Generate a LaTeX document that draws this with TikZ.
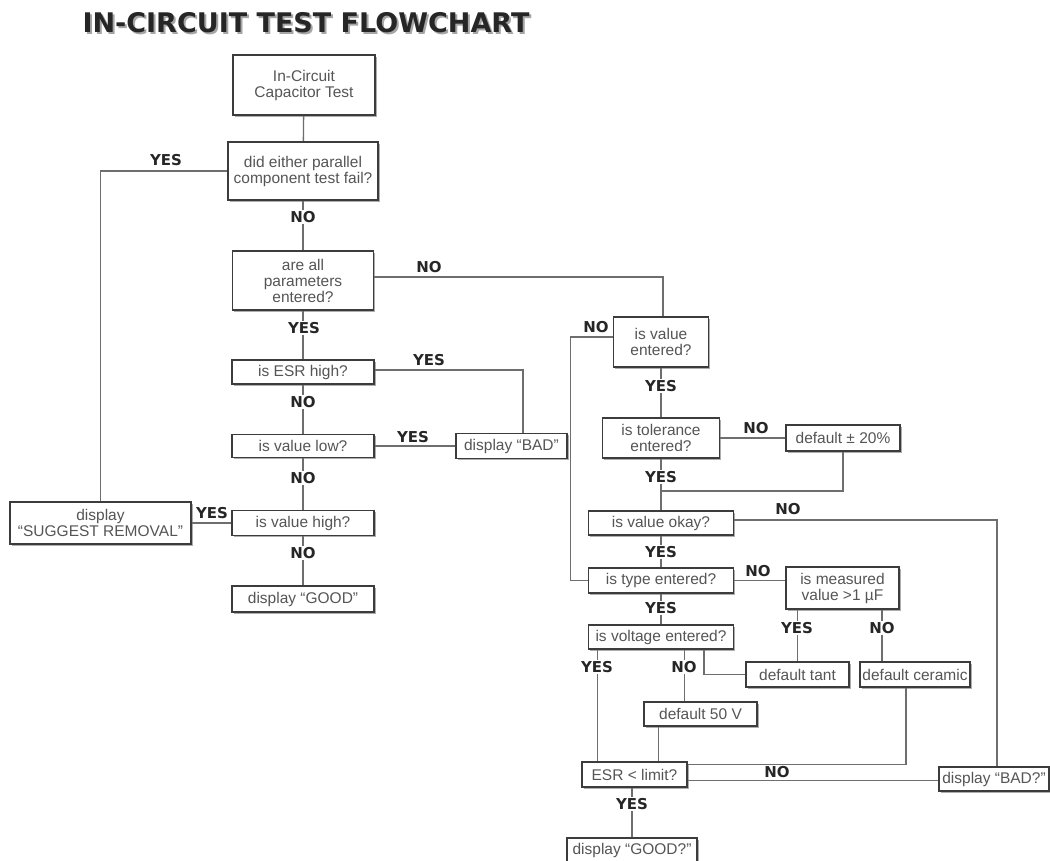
\documentclass[tikz,border=0pt]{standalone}
\usepackage{fontspec}
\newfontfamily\boxfont{Liberation Sans}
\newfontfamily\answerfont{DejaVu Sans}
\usetikzlibrary{calc, shadows}
\definecolor{boxline}{HTML}{3C3C3C}
\definecolor{boxtext}{HTML}{555555}
\definecolor{wirecol}{HTML}{6E6E6E}

\tikzset{
  box/.style 2 args={draw=boxline, line width=1.6pt, fill=white, inner sep=0pt,
    minimum width=#1pt, minimum height=#2pt, align=center, text=boxtext,
    font=\boxfont\fontsize{15.5}{16}\selectfont,
    drop shadow={shadow xshift=1.6pt, shadow yshift=-1.8pt, fill=black!40, opacity=0.8}},
  answer/.style={font=\answerfont\bfseries\fontsize{15}{15}\selectfont, text=black!85, inner sep=1pt},
  cut/.style={answer, fill=white},
  wire/.style={draw=wirecol, line width=1.3pt},
}

\begin{document}
\begin{tikzpicture}[x=1pt, y=-1pt]
  \useasboundingbox (0,0) rectangle (1050,861);
  \fill[white] (0,0) rectangle (1050,861);

  % Title
  \node[font=\answerfont\bfseries\fontsize{27}{27}\selectfont, text=black!35] (titleshade) at (308,25) {IN-CIRCUIT TEST FLOWCHART};
  \node[font=\answerfont\bfseries\fontsize{27}{27}\selectfont, text=black!85] (title) at (306,23) {IN-CIRCUIT TEST FLOWCHART};

  % Left column
  \node[box={142}{60}] (start) at (304,85) {In-Circuit\\Capacitor Test};
  \node[box={150}{58}] (fail) at (303,171) {did either parallel\\component test fail?};
  \node[box={141}{59}] (params) at (303,280.5) {are all\\parameters\\entered?};
  \node[box={142}{24}] (esrhigh) at (303,372) {is ESR high?};
  \node[box={142}{23}] (vallow) at (303,446) {is value low?};
  \node[box={142}{25}] (valhigh) at (303,523) {is value high?};
  \node[box={142}{26}] (good) at (303,599) {display “GOOD”};
  \node[box={181}{42}] (removal) at (100.5,523) {display\\“SUGGEST REMOVAL”};
  \node[box={111}{25}] (bad) at (511.5,446) {display “BAD”};

  % Right column
  \node[box={95}{50}] (valent) at (661,342) {is value\\entered?};
  \node[box={117}{40}] (tolent) at (661,438) {is tolerance\\entered?};
  \node[box={114}{26}] (tol20) at (843,438) {default ± 20\%};
  \node[box={145}{24}] (valok) at (661,523) {is value okay?};
  \node[box={145}{25}] (typent) at (661,580.5) {is type entered?};
  \node[box={113}{42}] (measured) at (842.5,588) {is measured\\value >1 µF};
  \node[box={145}{24}] (voltent) at (661,637) {is voltage entered?};
  \node[box={103}{25}] (tant) at (797.5,674.5) {default tant};
  \node[box={110}{25}] (ceramic) at (915,674.5) {default ceramic};
  \node[box={113}{24}] (v50) at (700.5,714) {default 50 V};
  \node[box={105}{25}] (esrlim) at (634.5,774.5) {ESR < limit?};
  \node[box={110}{24}] (badq) at (994,779) {display “BAD?”};
  \node[box={130}{24}] (goodq) at (632,850) {display “GOOD?”};
  \coordinate (tolj) at (661,491);

  % Connectors, left
  \draw[wire] (start) -- (fail);
  \draw[wire] (fail.west) -| (removal.north);
  \draw[wire] (fail) -- (params);
  \draw[wire] ([yshift=3.5pt]params.east) -| ([xshift=2pt]valent.north);
  \draw[wire] (params) -- (esrhigh);
  \draw[wire] ([yshift=2pt]esrhigh.east) -| ([xshift=11.5pt]bad.north);
  \draw[wire] (esrhigh) -- (vallow);
  \draw[wire] (vallow.east) -- (bad.west);
  \draw[wire] (vallow) -- (valhigh);
  \draw[wire] (valhigh.west) -- (removal.east);
  \draw[wire] (valhigh) -- (good);

  % Connectors, right
  \draw[wire] ([yshift=5pt]valent.west) -- ++(-42,0) |- (typent.west);
  \draw[wire] (valent) -- (tolent);
  \draw[wire] (tolent.east) -- (tol20.west);
  \draw[wire] (tolent) -- (valok);
  \draw[wire] (tol20.south) |- (tolj);
  \draw[wire] ([yshift=3pt]valok.east) -| ([xshift=3pt]badq.north);
  \draw[wire] (valok) -- (typent);
  \draw[wire] (typent.east) -- (typent.east -| measured.west);
  \draw[wire] (typent) -- (voltent);
  \draw[wire] (tant.north |- measured.south) -- (tant.north);
  \draw[wire] ([xshift=-33pt]ceramic.north |- measured.south) -- ([xshift=-33pt]ceramic.north);
  \draw[wire] (tant.west) -| ([xshift=3.5pt]v50.north |- voltent.south);
  \draw[wire] ([xshift=-16pt]v50.north |- voltent.south) -- ([xshift=-16pt]v50.north);
  \draw[wire] ([xshift=-37pt]esrlim.north |- voltent.south) -- ([xshift=-37pt]esrlim.north);
  \draw[wire] ([xshift=-42pt]v50.south) -- ([xshift=-42pt]v50.south |- esrlim.north);
  \draw[wire] ([xshift=-9pt]ceramic.south) |- ([yshift=10pt]esrlim.east);
  \draw[wire] ([yshift=-6pt]esrlim.east) -- ([yshift=-6pt]esrlim.east -| badq.west);
  \draw[wire] (esrlim.south -| goodq.north) -- (goodq.north);

  % Answers
  \node[answer] (a1) at (166,160) {YES};
  \node[cut] (a2) at (303,217) {NO};
  \node[answer] (a3) at (429,267) {NO};
  \node[cut] (a4) at (304,328) {YES};
  \node[answer] (a5) at (429,360) {YES};
  \node[cut] (a6) at (303,402) {NO};
  \node[answer] (a7) at (413,437) {YES};
  \node[cut] (a8) at (303,478) {NO};
  \node[answer] (a9) at (212,513) {YES};
  \node[cut] (a10) at (303,553) {NO};
  \node[answer] (a11) at (596,327) {NO};
  \node[cut] (a12) at (661,386) {YES};
  \node[answer] (a13) at (756,428) {NO};
  \node[cut] (a14) at (661,477) {YES};
  \node[answer] (a15) at (788,509) {NO};
  \node[cut] (a16) at (661,552) {YES};
  \node[answer] (a17) at (758,571) {NO};
  \node[cut] (a18) at (661,608) {YES};
  \node[cut] (a19) at (797,628) {YES};
  \node[cut] (a20) at (882,628) {NO};
  \node[cut] (a21) at (597,667) {YES};
  \node[cut] (a22) at (684,667) {NO};
  \node[answer] (a23) at (777,772) {NO};
  \node[cut] (a24) at (632,804) {YES};
\end{tikzpicture}
\end{document}
